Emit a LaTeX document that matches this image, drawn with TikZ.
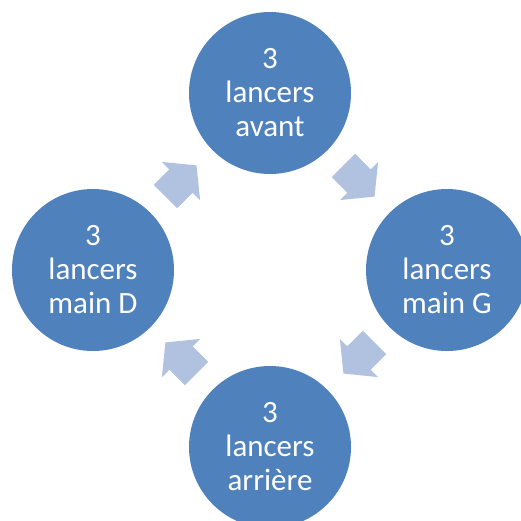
\documentclass[tikz,border=0pt]{standalone}
\usepackage{fontspec}
\setmainfont{Carlito}
\definecolor{circblue}{HTML}{4F81BD}
\definecolor{arrowfill}{HTML}{B0C2DF}
\begin{document}
\begin{tikzpicture}[x=1pt,y=-1pt,
  stage/.style={circle,fill=circblue,draw=none,minimum size=162pt,inner sep=0pt,
    text=white,align=center,font=\fontsize{31}{34}\selectfont},
  cyclearrow/.pic={\fill[arrowfill] (-22,-16.5) -- (0,-16.5) -- (0,-27) -- (22,0) -- (0,27) -- (0,16.5) -- (-22,16.5) -- cycle;}]
\useasboundingbox (0,0) rectangle (521,520);
\clip (0,0) rectangle (521,520);
\node[stage] (top) at (270,93) {3\\lancers\\avant};
\node[stage] (right) at (447,270) {3\\lancers\\main G};
\node[stage] (bottom) at (270,447) {3\\lancers\\arrière};
\node[stage] (left) at (93,270) {3\\lancers\\main D};
\pic[rotate=45] at (181,181) {cyclearrow};
\pic[rotate=-45] at (359,181) {cyclearrow};
\pic[rotate=-135] at (359,358) {cyclearrow};
\pic[rotate=135] at (181,358) {cyclearrow};
\end{tikzpicture}
\end{document}
